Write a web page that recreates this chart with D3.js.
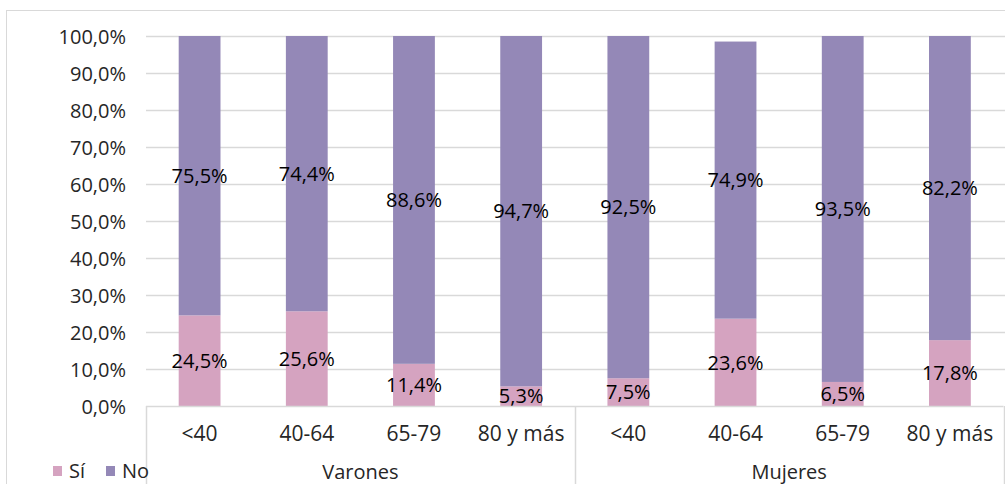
<!DOCTYPE html>
<html><head><meta charset="utf-8">
<script src="https://cdn.jsdelivr.net/npm/d3@7"></script>
<style>
html,body{margin:0;padding:0;background:#fff;}
svg{display:block;font-family:"Open Sans",sans-serif;}
</style></head><body>
<svg id="c" width="1005" height="484"></svg>
<script>
const groups = ["Varones","Mujeres"];
const ages = ["<40","40-64","65-79","80 y más"];
const siValues = [24.5, 25.6, 11.4, 5.3, 7.5, 23.6, 6.5, 17.8];
const noValues = [75.5, 74.4, 88.6, 94.7, 92.5, 74.9, 93.5, 82.2];
const yTicks = [0,10,20,30,40,50,60,70,80,90,100];
const seriesNames = ["Sí","No"];
const colors = {"Sí":"#d5a3c0","No":"#9488b7"};

const svg = d3.select("#c");
const fs = 20;
const pLeft = 146, pRight = 1003.5, pTop = 36, pBottom = 406;

const cats = [];
groups.forEach((g,gi)=>ages.forEach((a,ai)=>cats.push({key:g+"|"+a, group:g, age:a, i:gi*ages.length+ai})));

const x = d3.scaleBand().domain(cats.map(c=>c.key)).range([pLeft,pRight]).paddingInner(0.61).paddingOuter(0.305);
const y = d3.scaleLinear().domain([0,100]).range([pBottom,pTop]);

// outer border
svg.append("rect").attr("x",6.5).attr("y",10.5).attr("width",1010).attr("height",490)
  .attr("fill","none").attr("stroke","#d9d9d9");

// gridlines
svg.append("g").selectAll("line").data(yTicks.filter(t=>t>0)).join("line")
  .attr("x1",pLeft).attr("x2",1005).attr("y1",d=>Math.round(y(d))+0.5).attr("y2",d=>Math.round(y(d))+0.5)
  .attr("stroke","#d9d9d9").attr("stroke-width",1.5);

// y axis labels
const yAxis = d3.axisLeft(y).tickValues(yTicks).tickSize(0).tickPadding(0)
  .tickFormat(d=>d3.format(".1f")(d).replace(".",",")+"%");
const ya = svg.append("g").attr("transform",`translate(126,0)`).call(yAxis);
ya.select(".domain").remove();
ya.selectAll("text").attr("font-size",fs).attr("font-family","Open Sans").attr("fill","#262626").attr("dy","0.36em");

// stacked bars
const rows = cats.map((c,i)=>({key:c.key, "Sí":siValues[i], "No":noValues[i]}));
const stack = d3.stack().keys(seriesNames)(rows);
const bw = x.bandwidth();
svg.append("g").selectAll("g").data(stack).join("g").attr("fill",s=>colors[s.key])
  .selectAll("rect").data(s=>s).join("rect")
  .attr("x",d=>x(d.data.key)).attr("width",bw)
  .attr("y",d=>y(d[1])).attr("height",d=>y(d[0])-y(d[1]));

// value labels
svg.append("g").selectAll("g").data(stack).join("g")
  .selectAll("text").data(s=>s).join("text")
  .attr("x",d=>x(d.data.key)+bw/2).attr("y",d=>y((d[0]+d[1])/2))
  .attr("dy","0.36em").attr("text-anchor","middle").attr("font-size",fs).attr("fill","#000")
  .text(d=>d3.format(".1f")(d[1]-d[0]).replace(".",",")+"%");

// category axis
svg.append("line").attr("x1",pLeft).attr("x2",pRight).attr("y1",pBottom+0.5).attr("y2",pBottom+0.5)
  .attr("stroke","#d9d9d9").attr("stroke-width",1.5);
const sepX = [pLeft, x(cats[ages.length].key) - x.step()*x.paddingInner()/2, pRight];
svg.append("g").selectAll("line").data(sepX).join("line")
  .attr("x1",d=>Math.round(d)+0.5).attr("x2",d=>Math.round(d)+0.5).attr("y1",pBottom).attr("y2",484)
  .attr("stroke","#d9d9d9").attr("stroke-width",1.5);

svg.append("g").selectAll("text").data(cats).join("text")
  .attr("x",d=>x(d.key)+bw/2).attr("y",441).attr("text-anchor","middle")
  .attr("font-size",21).attr("fill","#262626").text(d=>d.age);

svg.append("g").selectAll("text").data(groups).join("text")
  .attr("x",(d,i)=>(sepX[i]+sepX[i+1])/2).attr("y",479).attr("text-anchor","middle")
  .attr("font-size",fs).attr("fill","#262626").text(d=>d);

// legend
const lg = svg.append("g");
const legX = [53, 106];
seriesNames.forEach((s,i)=>{
  lg.append("rect").attr("x",legX[i]).attr("y",466).attr("width",9).attr("height",10).attr("fill",colors[s]);
  lg.append("text").attr("x",legX[i]+16).attr("y",478).attr("font-size",fs).attr("fill","#262626").text(s);
});
</script></body></html>
